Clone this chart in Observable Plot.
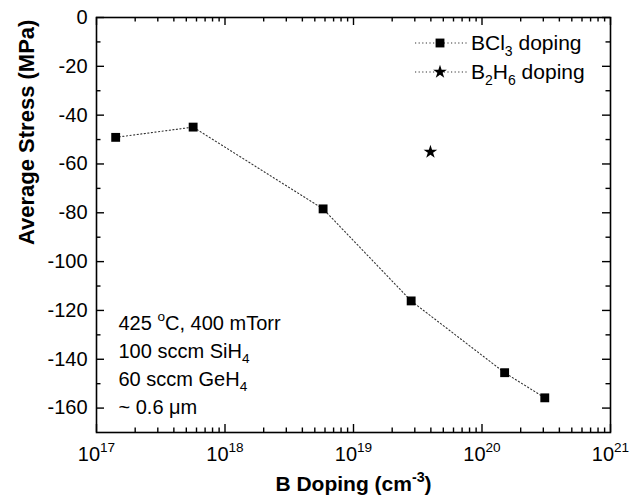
<!DOCTYPE html>
<html><head><meta charset="utf-8">
<script src="https://cdn.jsdelivr.net/npm/d3@7"></script>
<script src="https://cdn.jsdelivr.net/npm/@observablehq/plot@0.6"></script>
<style>
body{margin:0;background:#fff;}
#wrap{position:relative;width:639px;height:495px;font-family:Arial,"Liberation Sans",sans-serif;}
.lrow{position:absolute;left:413px;height:28px;display:flex;align-items:center;font-size:21px;color:#000;white-space:nowrap;}
.lrow svg{margin-right:2px;}
.lrow sub{font-size:14px;vertical-align:-6px;line-height:0;}
</style></head><body><div id="wrap"></div>
<script>
// ---- data ----
const bcl3Doping = [1.41e17, 5.65e17, 5.8e18, 2.81e19, 1.50e20, 3.08e20];
const bcl3Stress = [-49.1, -44.9, -78.4, -116.1, -145.5, -155.8];
const b2h6Doping = [3.97e19];
const b2h6Stress = [-55.1];
const xDecades = [1e17, 1e18, 1e19, 1e20, 1e21];
const xTickLabels = ["10^{17}", "10^{18}", "10^{19}", "10^{20}", "10^{21}"];
const yMajor = [0, -20, -40, -60, -80, -100, -120, -140, -160];
const yTickLabels = ["0", "-20", "-40", "-60", "-80", "-100", "-120", "-140", "-160"];
const yMinor = [-10, -30, -50, -70, -90, -110, -130, -150];
const noteLines = ["425 ^{o}C, 400 mTorr", "100 sccm SiH_{4}", "60 sccm GeH_{4}", "~ 0.6 \u03bcm"];
const xTitle = "B Doping (cm^{-3})";
const yTitle = "Average Stress (MPa)";

const xMinor = [];
for (const d of xDecades.slice(0, -1)) for (const k of [2,3,4,5,6,7,8,9]) xMinor.push(k * d);

const bcl3 = bcl3Doping.map((x, i) => ({x, y: bcl3Stress[i]}));
const b2h6 = b2h6Doping.map((x, i) => ({x, y: b2h6Stress[i]}));

// ---- layout ----
const W = 639, H = 495, mL = 96, mR = 29, mT = 17, mB = 63;
const pw = W - mL - mR, ph = H - mT - mB;
const FONT = 'Arial, "Liberation Sans", sans-serif';
const majL = 8, minL = 4.5, tw = 1.4;
const SQ_R = 5, STAR_R = 4.3;

const noteBaselines = [329, 357, 385, 413];

const marks = [
  // ticks (inside, all four sides)
  Plot.ruleX(xDecades, {x: d => d, insetTop: ph - majL, stroke: "black", strokeWidth: tw}),
  Plot.ruleX(xMinor, {x: d => d, insetTop: ph - minL, stroke: "black", strokeWidth: tw}),
  Plot.ruleX(xDecades, {x: d => d, insetBottom: ph - majL, stroke: "black", strokeWidth: tw}),
  Plot.ruleX(xMinor, {x: d => d, insetBottom: ph - minL, stroke: "black", strokeWidth: tw}),
  Plot.ruleY(yMajor, {y: d => d, insetRight: pw - majL, stroke: "black", strokeWidth: tw}),
  Plot.ruleY(yMinor, {y: d => d, insetRight: pw - minL, stroke: "black", strokeWidth: tw}),
  Plot.ruleY(yMajor, {y: d => d, insetLeft: pw - majL, stroke: "black", strokeWidth: tw}),
  Plot.ruleY(yMinor, {y: d => d, insetLeft: pw - minL, stroke: "black", strokeWidth: tw}),
  Plot.frame({stroke: "black", strokeWidth: 1.6}),
  // data
  Plot.line(bcl3, {x: "x", y: "y", stroke: "#333", strokeWidth: 1.1, strokeDasharray: "1.2,2.4"}),
  Plot.dot(bcl3, {x: "x", y: "y", symbol: "square", r: SQ_R, fill: "black", stroke: "none"}),
  Plot.dot(b2h6, {x: "x", y: "y", symbol: "star", r: STAR_R, fill: "black", stroke: "none"}),
  // tick labels
  Plot.text(yMajor, {y: d => d, text: (d, i) => yTickLabels[i], frameAnchor: "left", dx: -9, textAnchor: "end", fontSize: 20}),
  Plot.text(xDecades, {x: d => d, text: (d, i) => xTickLabels[i], frameAnchor: "bottom", dy: 28, lineAnchor: "bottom", fontSize: 20}),
  // axis titles
  Plot.text([xTitle], {text: d => d, frameAnchor: "bottom", dy: 58, lineAnchor: "bottom", fontSize: 21, fontWeight: "bold"}),
  Plot.text([yTitle], {text: d => d, frameAnchor: "left", dx: -70, dy: 20, rotate: -90, fontSize: 22, fontWeight: "bold"}),
  // annotation
  ...noteLines.map((t, i) => Plot.text([t], {text: d => d, frameAnchor: "top-left", dx: 22, dy: noteBaselines[i] - mT, lineAnchor: "bottom", textAnchor: "start", fontSize: 20}))
];

const chart = Plot.plot({
  width: W, height: H,
  marginLeft: mL, marginRight: mR, marginTop: mT, marginBottom: mB,
  x: {type: "log", domain: [1e17, 1e21], axis: null},
  y: {domain: [-170, 0], axis: null},
  style: {fontFamily: FONT, fontSize: "20px", background: "white", color: "black", overflow: "visible"},
  marks
});

const wrap = document.getElementById("wrap");
wrap.appendChild(chart);

// rich text: ^{..} superscript, _{..} subscript
function rich(el) {
  const s = el.textContent;
  if (!/[\^_]\{/.test(s)) return;
  const fs = parseFloat(getComputedStyle(el).fontSize) || 20;
  const small = fs * 0.68;
  el.textContent = "";
  const re = /([\^_])\{([^}]*)\}|([^\^_]+)/g;
  let m, shift = 0;
  while ((m = re.exec(s))) {
    const t = document.createElementNS("http://www.w3.org/2000/svg", "tspan");
    let target = 0;
    if (m[1]) {
      target = m[1] === "^" ? -fs * 0.42 : fs * 0.28;
      t.setAttribute("font-size", small);
      t.textContent = m[2];
    } else {
      t.textContent = m[3];
    }
    const dy = target - shift;
    if (dy) t.setAttribute("dy", dy);
    shift = target;
    el.appendChild(t);
  }
}
d3.select(chart).selectAll("text").each(function() { rich(this); });

// legend (inside plot, top right)
const legendItems = [
  {label: "BCl<sub>3</sub> doping", sym: "square", cy: 43},
  {label: "B<sub>2</sub>H<sub>6</sub> doping", sym: "star", cy: 72}
];
for (const it of legendItems) {
  const row = document.createElement("div");
  row.className = "lrow";
  row.style.top = (it.cy - 14) + "px";
  const svg = d3.create("svg").attr("width", 56).attr("height", 28);
  svg.append("line").attr("x1", 2).attr("x2", 54).attr("y1", 14).attr("y2", 14)
    .attr("stroke", "#333").attr("stroke-width", 1.1).attr("stroke-dasharray", "1.2,2.4");
  const sym = it.sym === "square" ? d3.symbolSquare : d3.symbolStar;
  const size = Math.PI * (it.sym === "square" ? SQ_R : STAR_R) ** 2;
  svg.append("path").attr("d", d3.symbol(sym, size)()).attr("transform", "translate(27,14)").attr("fill", "black");
  row.appendChild(svg.node());
  const span = document.createElement("span");
  span.innerHTML = it.label;
  row.appendChild(span);
  wrap.appendChild(row);
}
</script>
</body></html>
